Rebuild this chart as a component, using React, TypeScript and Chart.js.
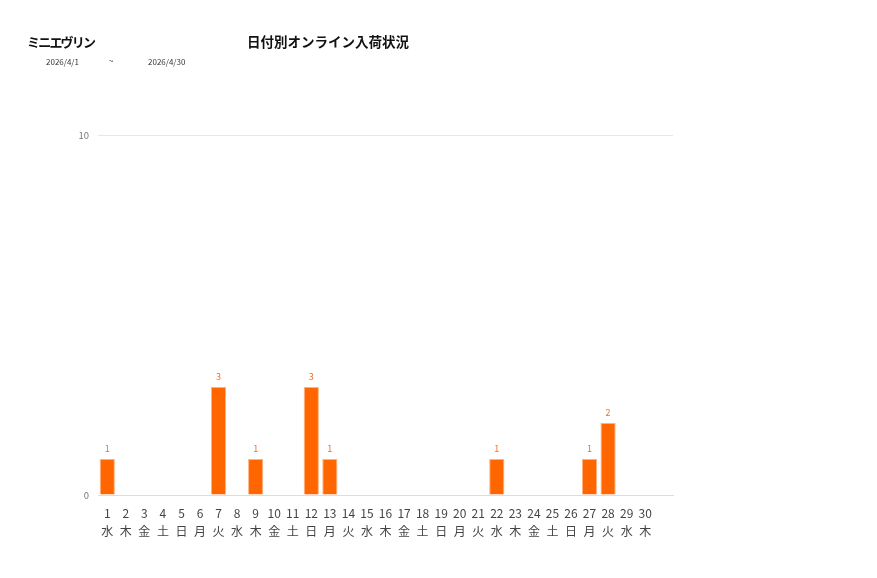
import { useEffect, useRef } from "react";
import { Chart, registerables } from "chart.js";

Chart.register(...registerables);

// 日付と曜日 (2026/4) — 最後の空欄は元グラフの余白カテゴリ
const days = ["1", "2", "3", "4", "5", "6", "7", "8", "9", "10", "11", "12", "13", "14", "15", "16", "17", "18", "19", "20", "21", "22", "23", "24", "25", "26", "27", "28", "29", "30", ""];
const weekdays = ["水", "木", "金", "土", "日", "月", "火", "水", "木", "金", "土", "日", "月", "火", "水", "木", "金", "土", "日", "月", "火", "水", "木", "金", "土", "日", "月", "火", "水", "木", ""];
const arrivals = [1, 0, 0, 0, 0, 0, 3, 0, 1, 0, 0, 3, 1, 0, 0, 0, 0, 0, 0, 0, 0, 1, 0, 0, 0, 0, 1, 2, 0, 0, null];
const yTicks = [0, 10];

const FONT = "'Noto Sans CJK JP', 'Noto Sans', sans-serif";

// 棒の上に値を表示 (0 は表示しない)
const valueLabels = {
    id: "valueLabels",
    afterDatasetsDraw(chart: Chart) {
        const ctx = chart.ctx;
        const meta = chart.getDatasetMeta(0);
        ctx.save();
        ctx.fillStyle = "#f07020";
        ctx.font = `9px ${FONT}`;
        ctx.textAlign = "center";
        ctx.textBaseline = "bottom";
        meta.data.forEach((bar: any, i: number) => {
            const v = arrivals[i];
            if (v) {
                ctx.fillText(String(v), bar.x, bar.y - 6);
            }
        });
        ctx.restore();
    },
};

const ArrivalChart = () => {
    const chartRef = useRef<HTMLCanvasElement | null>(null);
    const chartInstanceRef = useRef<Chart | null>(null);

    useEffect(() => {
        if (!chartRef.current) return;
        const ctx = chartRef.current.getContext("2d");
        if (!ctx) return;
        if (chartInstanceRef.current) chartInstanceRef.current.destroy();

        chartInstanceRef.current = new Chart(ctx, {
            type: "bar",
            data: {
                labels: days.map((d, i) => [d, weekdays[i]]),
                datasets: [
                    {
                        label: "入荷数",
                        data: arrivals,
                        backgroundColor: "#ff6600",
                        borderColor: "#ffb27f",
                        borderWidth: 1,
                        categoryPercentage: 1,
                        barPercentage: 0.82,
                    },
                ],
            },
            options: {
                responsive: false,
                animation: false,
                layout: {
                    padding: { left: 0, right: 204, top: 135, bottom: 0 },
                },
                plugins: {
                    legend: { display: false },
                    tooltip: { enabled: false },
                },
                scales: {
                    x: {
                        grid: { display: false, drawTicks: false },
                        border: { display: true, color: "#dddddd" },
                        ticks: {
                            color: "#444444",
                            padding: 9,
                            maxRotation: 0,
                            autoSkip: false,
                            font: { family: FONT, size: 12, lineHeight: 1.5 },
                        },
                        afterFit: (s: any) => {
                            s.height = 83;
                        },
                    },
                    y: {
                        min: 0,
                        max: 10,
                        afterBuildTicks: (s: any) => {
                            s.ticks = yTicks.map((v) => ({ value: v }));
                        },
                        grid: { color: "#e6e6e6", drawTicks: false },
                        border: { display: false },
                        ticks: {
                            color: "#777777",
                            padding: 9,
                            font: { family: FONT, size: 9.5 },
                        },
                        afterFit: (s: any) => {
                            s.width = 98;
                        },
                    },
                },
            },
            plugins: [valueLabels],
        });

        return () => {
            if (chartInstanceRef.current) {
                chartInstanceRef.current.destroy();
                chartInstanceRef.current = null;
            }
        };
    }, []);

    return <canvas ref={chartRef} width={877} height={578} style={{ position: "absolute", left: 0, top: 0 }} />;
};

const text = (left: number, top: number, size: number, bold: boolean, content: string, extra: any = {}) => (
    <div
        style={{
            position: "absolute",
            left,
            top,
            fontSize: size,
            fontWeight: bold ? "bold" : "normal",
            fontFamily: FONT,
            color: "#111111",
            whiteSpace: "nowrap",
            lineHeight: 1,
            ...extra,
        }}
    >
        {content}
    </div>
);

export default function App() {
    return (
        <div style={{ position: "absolute", left: 0, top: 0, width: 877, height: 578, background: "#ffffff", overflow: "hidden" }}>
            <ArrivalChart />
            {text(27, 35, 13, true, "ミニエヴリン", { letterSpacing: -1.8 })}
            {text(247, 35, 13.5, true, "日付別オンライン入荷状況")}
            {text(46, 58, 8, false, "2026/4/1", { color: "#333" })}
            {text(109, 57, 8, false, "~", { color: "#333" })}
            {text(148, 58, 8, false, "2026/4/30", { color: "#333" })}
        </div>
    );
}
